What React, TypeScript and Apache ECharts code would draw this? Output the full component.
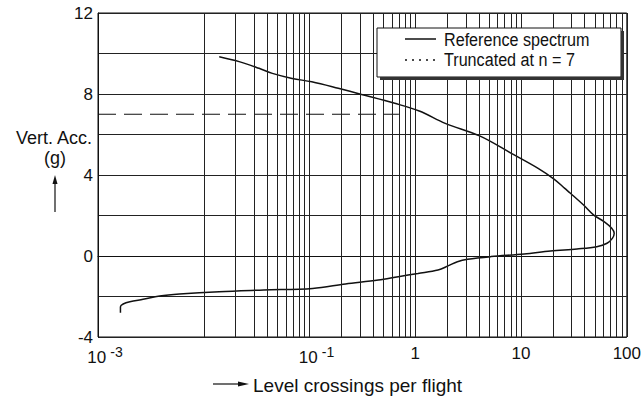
import React, { useEffect, useRef } from "react";
import * as echarts from "echarts";

// Reference spectrum: level crossings per flight (x) vs vertical acceleration (g)
const refX = [0.014, 0.0216, 0.0333, 0.0445, 0.0685, 0.105, 0.187, 0.31, 0.64, 1.09, 1.92, 4.06, 8.1, 14.5, 20.5, 25.9, 29.3, 39, 48.7, 61.4, 72, 76, 73, 65, 52, 33.8, 19, 10.7, 5.2, 3.13, 2.5, 2.04, 1.64, 1.06, 0.69, 0.447, 0.219, 0.107, 0.037, 0.014, 0.0059, 0.00383, 0.00267, 0.002, 0.00173, 0.00163, 0.00163];
const refY = [9.84, 9.6, 9.27, 9.02, 8.77, 8.6, 8.28, 7.98, 7.54, 7.16, 6.55, 5.93, 5.07, 4.33, 3.8, 3.34, 3.1, 2.52, 2.02, 1.69, 1.37, 1.12, 0.87, 0.63, 0.46, 0.35, 0.25, 0.1, -0.03, -0.16, -0.28, -0.49, -0.69, -0.86, -1.02, -1.19, -1.38, -1.6, -1.68, -1.76, -1.88, -1.98, -2.14, -2.26, -2.37, -2.5, -2.8];

// Truncation line at n = 7
const truncX = [0.001, 0.7];
const truncY = [7, 7];

// Log grid: decades and minor multipliers
const decades = [0.001, 0.01, 0.1, 1, 10];
const minorMult = [2, 3, 4, 5, 6, 7, 8, 9];

// Tick labels of the x axis (by decade exponent)
const xTickLabels: Record<string, string> = {
  "-3": "{b|10}{sup|-3}",
  "-2": "",
  "-1": "{b|10}{sup|-1}",
  "0": "1",
  "1": "10",
  "2": "100",
};

const legendNames = ["Reference spectrum", "Truncated at n = 7"];

const FONT = "'Liberation Sans', Arial, Helvetica, sans-serif";

export default function App() {
  const ref = useRef<HTMLDivElement>(null);
  useEffect(() => {
    if (!ref.current) return;
    const chart = echarts.init(ref.current, undefined, { renderer: "svg" });
    const minorLines: any[] = [];
    decades.forEach((d) => minorMult.forEach((m) => minorLines.push({ xAxis: +(m * d).toPrecision(6) })));
    const option: any = {
      animation: false,
      backgroundColor: "#fff",
      textStyle: { fontFamily: FONT, color: "#111" },
      grid: { left: 98, right: 14, top: 13, bottom: 60, show: true, borderColor: "#111", borderWidth: 1, backgroundColor: "transparent" },
      xAxis: {
        type: "log",
        logBase: 10,
        min: 0.001,
        max: 100,
        axisLine: { show: true, lineStyle: { color: "#111", width: 1 } },
        axisTick: { show: false },
        splitLine: { show: true, lineStyle: { color: "#222", width: 1 } },
        axisLabel: {
          margin: 8,
          color: "#111",
          fontSize: 17,
          fontFamily: FONT,
          formatter: (v: number) => {
            const e = Math.round(Math.log10(v));
            return xTickLabels[String(e)] ?? "";
          },
          rich: {
            b: { fontSize: 17, fontFamily: FONT, color: "#111", padding: [0, 0, 0, 14] },
            sup: { fontSize: 14, fontFamily: FONT, color: "#111", padding: [0, 0, 10, 4] },
          },
        },
      },
      yAxis: {
        type: "value",
        min: -4,
        max: 12,
        interval: 2,
        axisLine: { show: true, lineStyle: { color: "#111", width: 1 } },
        axisTick: { show: false },
        splitLine: { show: true, lineStyle: { color: "#222", width: 1 } },
        axisLabel: {
          margin: 5,
          color: "#111",
          fontSize: 17,
          fontFamily: FONT,
          formatter: (v: number) => (v % 4 === 0 ? String(v) : ""),
        },
      },
      graphic: [
        // legend box with drop shadow
        { type: "rect", shape: { x: 377, y: 28, width: 244, height: 49 }, style: { fill: "#fff", stroke: "#111", lineWidth: 1 }, z: 11 },
        { type: "line", shape: { x1: 622.5, y1: 31, x2: 622.5, y2: 80 }, style: { stroke: "#333", lineWidth: 3 }, z: 11 },
        { type: "line", shape: { x1: 380, y1: 78.5, x2: 624, y2: 78.5 }, style: { stroke: "#333", lineWidth: 3 }, z: 11 },
        { type: "line", shape: { x1: 405, y1: 39, x2: 436, y2: 39 }, style: { stroke: "#111", lineWidth: 1.5 }, z: 12 },
        { type: "line", shape: { x1: 405, y1: 60, x2: 436, y2: 60 }, style: { stroke: "#111", lineWidth: 1.5, lineDash: [2, 5] }, z: 12 },
        { type: "text", x: 444, y: 40, scaleX: 0.85, style: { text: legendNames[0], fontSize: 19, fontFamily: FONT, fill: "#111", verticalAlign: "middle" }, z: 12 },
        { type: "text", x: 444, y: 60, scaleX: 0.85, style: { text: legendNames[1], fontSize: 19, fontFamily: FONT, fill: "#111", verticalAlign: "middle" }, z: 12 },
        // y-axis name
        { type: "text", x: 54, y: 138, style: { text: "Vert. Acc.", fontSize: 18, fontFamily: FONT, fill: "#111", align: "center", verticalAlign: "middle" } },
        { type: "text", x: 55, y: 158, style: { text: "(g)", fontSize: 18, fontFamily: FONT, fill: "#111", align: "center", verticalAlign: "middle" } },
        { type: "line", shape: { x1: 55, y1: 212, x2: 55, y2: 182 }, style: { stroke: "#111", lineWidth: 1.2 } },
        { type: "polygon", shape: { points: [[55, 175], [52.5, 184], [57.5, 184]] }, style: { fill: "#111" } },
        // x-axis name
        { type: "line", shape: { x1: 213, y1: 384, x2: 240, y2: 384 }, style: { stroke: "#111", lineWidth: 1.2 } },
        { type: "polygon", shape: { points: [[249, 384], [238, 381.5], [238, 386.5]] }, style: { fill: "#111" } },
        { type: "text", x: 253, y: 385, style: { text: "Level crossings per flight", fontSize: 19, fontFamily: FONT, fill: "#111", verticalAlign: "middle" } },
      ],
      series: [
        {
          name: legendNames[0],
          type: "line",
          data: refX.map((x, i) => [x, refY[i]]),
          smooth: 0.35,
          symbol: "none",
          lineStyle: { color: "#111", width: 1.5 },
          z: 3,
        },
        {
          name: legendNames[1],
          type: "line",
          data: truncX.map((x, i) => [x, truncY[i]]),
          symbol: "none",
          lineStyle: { color: "#111", width: 1.2, type: [18, 8] },
          z: 3,
        },
        {
          name: "grid",
          type: "line",
          data: [[0.001, -4]],
          symbol: "none",
          silent: true,
          lineStyle: { opacity: 0 },
          markLine: {
            silent: true,
            symbol: ["none", "none"],
            label: { show: false },
            lineStyle: { color: "#222", width: 1, type: "solid" },
            data: minorLines,
          },
          z: 1,
        },
      ],
    };
    chart.setOption(option);
    return () => chart.dispose();
  }, []);
  return <div ref={ref} style={{ width: 644, height: 397, position: "absolute", left: 0, top: 0 }} />;
}
